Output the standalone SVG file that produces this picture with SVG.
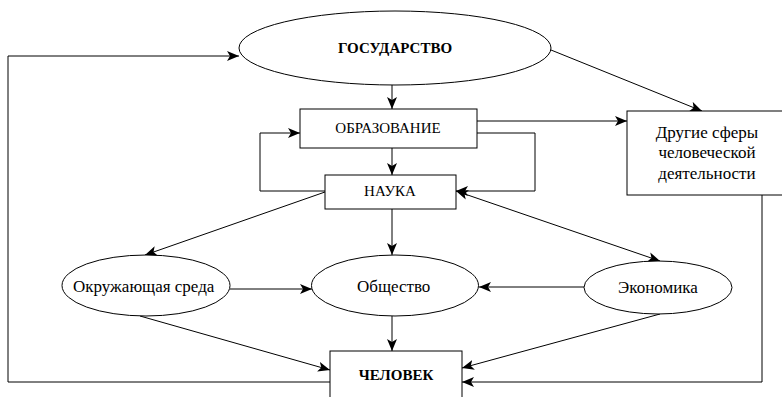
<svg xmlns="http://www.w3.org/2000/svg" width="782" height="397" viewBox="0 0 782 397">
<style>
.shape{fill:#fff;stroke:#000;stroke-width:1}
.con{fill:none;stroke:#000;stroke-width:1}
text{font-family:"Liberation Serif","DejaVu Serif","Times New Roman",serif;font-size:17px;fill:#000;text-anchor:middle}
.caps{font-size:15px}
.b{font-weight:bold;font-size:15px}
</style>
<defs>
<marker id="ah" viewBox="0 0 12 10" refX="12" refY="5" markerWidth="12" markerHeight="10" markerUnits="userSpaceOnUse" orient="auto-start-reverse">
<path d="M0,0 L12,5 L0,10 L3,5 z" fill="#000"/>
</marker>
<clipPath id="cOkr"><rect x="60" y="250" width="159" height="70"/></clipPath>
<clipPath id="cObs"><rect x="310" y="250" width="123" height="70"/></clipPath>
<clipPath id="cDr"><rect x="627" y="162" width="130" height="30"/></clipPath>
</defs>
<rect width="782" height="397" fill="#fff"/>
<g id="connectors">
<path class="con" d="M392,85 V109" marker-end="url(#ah)"/>
<path class="con" d="M551,50 L702,111" marker-end="url(#ah)"/>
<path class="con" d="M392,148 V175" marker-end="url(#ah)"/>
<path class="con" d="M325,191 H260 V133 H300" marker-end="url(#ah)"/>
<path class="con" d="M477,133 H535 V191 H456" marker-end="url(#ah)"/>
<path class="con" d="M477,121 H627" marker-end="url(#ah)"/>
<path class="con" d="M325,192 L145,255" marker-end="url(#ah)"/>
<path class="con" d="M392,209 V255" marker-end="url(#ah)"/>
<path class="con" d="M456,191 L660,261" marker-start="url(#ah)" marker-end="url(#ah)"/>
<path class="con" d="M230,289 H312" marker-end="url(#ah)"/>
<path class="con" d="M584,287 H479" marker-end="url(#ah)"/>
<path class="con" d="M392,316 V351" marker-end="url(#ah)"/>
<path class="con" d="M140,316 L330,370" marker-end="url(#ah)"/>
<path class="con" d="M660,314 L462,368" marker-end="url(#ah)"/>
<path class="con" d="M762,195 V382 H462" marker-end="url(#ah)"/>
<path class="con" d="M330,382 H8 V56 H239" marker-end="url(#ah)"/>
</g>
<g id="gosudarstvo">
<ellipse class="shape" cx="395" cy="48" rx="156" ry="37"/>
<text class="b" x="395" y="53">ГОСУДАРСТВО</text>
</g>
<g id="obrazovanie">
<rect class="shape" x="300" y="109" width="177" height="39"/>
<text class="caps" x="388" y="133">ОБРАЗОВАНИЕ</text>
</g>
<g id="nauka">
<rect class="shape" x="325" y="175" width="131" height="34"/>
<text class="caps" x="390" y="196">НАУКА</text>
</g>
<g id="drugie">
<rect class="shape" x="627" y="111" width="160" height="84"/>
<text x="707" y="138">Другие сферы</text>
<text x="707" y="158">человеческой</text>
<text x="707" y="179" clip-path="url(#cDr)">деятельности</text>
</g>
<g id="okruzhayushchaya">
<ellipse class="shape" cx="146" cy="285.5" rx="84" ry="30.5"/>
<text x="73" y="292" clip-path="url(#cOkr)" style="text-anchor:start">Окружающая среда</text>
</g>
<g id="obshchestvo">
<ellipse class="shape" cx="395" cy="285.5" rx="83.5" ry="30.5"/>
<text x="357" y="292" clip-path="url(#cObs)" style="text-anchor:start">Общество</text>
</g>
<g id="ekonomika">
<ellipse class="shape" cx="658" cy="287.5" rx="74" ry="26.5"/>
<text x="658" y="293">Экономика</text>
</g>
<g id="chelovek">
<rect class="shape" x="330" y="351" width="132" height="50"/>
<text class="b" x="396" y="380">ЧЕЛОВЕК</text>
</g>
</svg>
